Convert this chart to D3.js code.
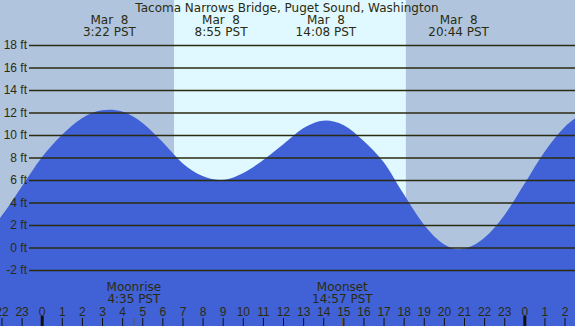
<!DOCTYPE html>
<html>
<head>
<meta charset="UTF-8">
<style>
  body { margin: 0; background: #fff; }
  svg { display: block; font-family: "DejaVu Sans", sans-serif; }
  .lbl { fill: #2b2b10; font-size: 12px; }
  .axis-y line { stroke: #2b2b10; stroke-width: 1.3; }
  .axis-y text { fill: #2b2b10; font-size: 12px; }
  .axis-x line { stroke: #111; }
  .axis-x text { fill: #2b2b10; font-size: 12px; }
  .domain { display: none; }
</style>
<script src="https://d3js.org/d3.v7.min.js"></script>
</head>
<body>
<svg id="chart"></svg>
<script>
// hours since midnight Mar 8 (negative = Mar 7), heights in ft
var tideHours = [-3, -2, -1, 0, 1, 2, 3, 3.37, 4, 5, 6, 7, 8, 8.92, 10, 11, 12, 13, 14.13, 15, 16, 17, 18, 19, 20, 20.73, 22, 23, 24, 25, 26, 27];
var tideFeet  = [0.8, 2.8, 5.4, 8.0, 10.0, 11.5, 12.2, 12.25, 12.1, 11.1, 9.4, 7.5, 6.35, 6.0, 6.6, 7.75, 9.15, 10.6, 11.3, 10.9, 9.5, 7.6, 4.75, 2.05, 0.3, -0.15, 0.85, 2.85, 5.65, 8.5, 10.7, 12.0];

var extremeHours = [3.367, 8.917, 14.133, 20.733];
var extremeDates = ['Mar  8', 'Mar  8', 'Mar  8', 'Mar  8'];
var extremeTimes = ['3:22 PST', '8:55 PST', '14:08 PST', '20:44 PST'];

var sunrise = 6.58, sunset = 18.11;
var moonHours = [4.583, 14.95];
var moonNames = ['Moonrise', 'Moonset'];
var moonTimes = ['4:35 PST', '14:57 PST'];

var feetTicks = [-2, 0, 2, 4, 6, 8, 10, 12, 14, 16, 18];
var hourTicks = d3.range(-2, 27);

var title = 'Tacoma Narrows Bridge, Puget Sound, Washington';

var width = 575, height = 326;
var svg = d3.select('#chart').attr('width', width).attr('height', height);

var x = d3.scaleLinear().domain([-2.074, 26.52]).range([0, width]);
var y = d3.scaleLinear().domain([-2, 18]).range([270, 45]);

// night / day background
svg.append('rect').attr('x', 0).attr('y', 0).attr('width', width).attr('height', height).attr('fill', '#b0c4de');
svg.append('rect')
  .attr('x', x(sunrise)).attr('y', 0)
  .attr('width', x(sunset) - x(sunrise)).attr('height', height)
  .attr('fill', '#e0f8ff');

// water
var tide = tideHours.map(function(h, i) { return {h: h, f: tideFeet[i]}; });
var area = d3.area()
  .x(function(d) { return x(d.h); })
  .y0(height)
  .y1(function(d) { return y(d.f); })
  .curve(d3.curveMonotoneX);
svg.append('path').datum(tide).attr('d', area).attr('fill', '#4161d6');

// height grid
svg.append('g')
  .attr('class', 'axis-y')
  .attr('transform', 'translate(29,0)')
  .call(d3.axisLeft(y).tickValues(feetTicks).tickSize(-(width - 29)).tickPadding(2)
    .tickFormat(function(d) { return d + ' ft'; }));

// hour ticks
var xAxis = svg.append('g')
  .attr('class', 'axis-x')
  .attr('transform', 'translate(0,' + height + ')')
  .call(d3.axisTop(x).tickValues(hourTicks).tickSize(8).tickPadding(2)
    .tickFormat(function(d) { return (d + 24) % 24; }));
xAxis.selectAll('.tick line')
  .attr('stroke-width', function(d) { return d % 24 === 0 ? 3 : 1; })
  .attr('y2', function(d) { return d % 24 === 0 ? -10 : -8; });

// moon ticks and labels
moonHours.forEach(function(h, i) {
  svg.append('line')
    .attr('x1', x(h)).attr('x2', x(h))
    .attr('y1', height - 8).attr('y2', height)
    .attr('stroke', '#6b5a2a');
  svg.append('text').attr('class', 'lbl').attr('x', x(h)).attr('y', 291)
    .attr('text-anchor', 'middle').text(moonNames[i]);
  svg.append('text').attr('class', 'lbl').attr('x', x(h)).attr('y', 303)
    .attr('text-anchor', 'middle').text(moonTimes[i]);
});

// high / low labels
extremeHours.forEach(function(h, i) {
  svg.append('text').attr('class', 'lbl').attr('x', x(h)).attr('y', 24)
    .attr('text-anchor', 'middle').style('white-space', 'pre')
    .text(extremeDates[i]);
  svg.append('text').attr('class', 'lbl').attr('x', x(h)).attr('y', 36)
    .attr('text-anchor', 'middle').text(extremeTimes[i]);
});

svg.append('text').attr('class', 'lbl').attr('x', 287).attr('y', 12)
  .attr('text-anchor', 'middle').text(title);
</script>
</body>
</html>
